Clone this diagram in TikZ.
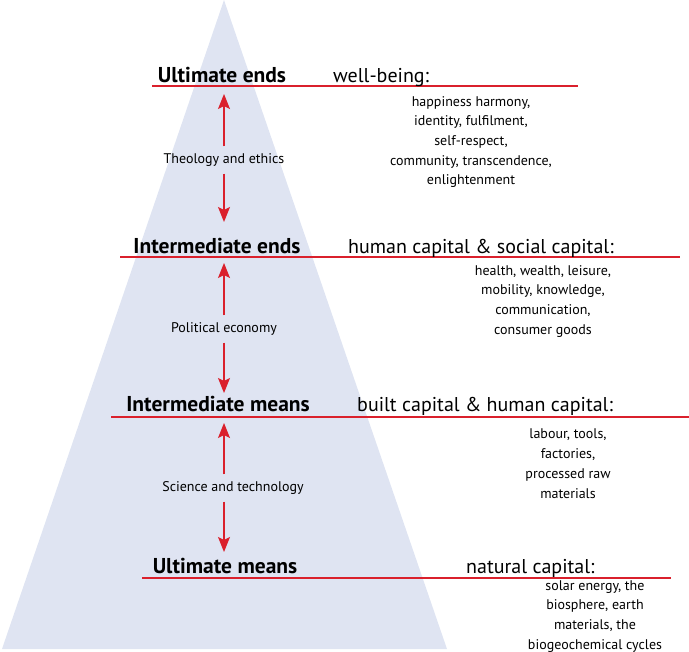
\documentclass[tikz,border=0pt]{standalone}
\usepackage{fontspec}
\setmainfont{PT Sans}
\usetikzlibrary{arrows.meta}

\definecolor{pyramid}{RGB}{223,228,242}
\definecolor{linered}{RGB}{218,32,44}

\tikzset{
  level/.style={anchor=base,inner sep=0pt,font=\bfseries\fontsize{21.5}{24}\selectfont},
  capital/.style={anchor=base west,inner sep=0pt,font=\fontsize{20}{24}\selectfont},
  detail/.style={anchor=north,align=center,inner sep=0pt,font=\fontsize{14}{19.7}\selectfont},
  bridge/.style={inner xsep=0pt,inner ysep=7pt,font=\fontsize{14}{16}\selectfont},
  divider/.style={linered,line width=1.1pt},
  updown/.style={linered,line width=1.3pt,-{Stealth[length=15pt,width=12pt,inset=3pt]}}
}

\begin{document}
\begin{tikzpicture}[x=1pt,y=-1pt]
\useasboundingbox (0,0) rectangle (689,652);
% the pyramid
\fill[pyramid] (224,0) -- (447,649) -- (2,649) -- cycle;

% red rules under each level
\draw[divider] (152,86) -- (578,86);
\draw[divider] (120,257) -- (680,257);
\draw[divider] (111,417) -- (689,417);
\draw[divider] (142,578) -- (671,578);

% levels
\node[level] (ue) at (222,83) {Ultimate ends};
\node[level] (ie) at (217,254) {Intermediate ends};
\node[level] (im) at (218,412) {Intermediate means};
\node[level] (um) at (225,573) {Ultimate means};

\node[capital] (ueCap) at (333,83) {well-being:};
\node[capital] (ieCap) at (348,254) {human capital \& social capital:};
\node[capital] (imCap) at (357,412) {built capital \& human capital:};
\node[capital] (umCap) at (466,573) {natural capital:};

\node[detail] (ueList) at (471,96) {happiness harmony,\\identity, fulfilment,\\self-respect,\\community, transcendence,\\enlightenment};
\node[detail] (ieList) at (543,265) {health, wealth, leisure,\\mobility, knowledge,\\communication,\\consumer goods};
\node[detail] (imList) at (568,429) {labour, tools,\\factories,\\processed raw\\materials};
\node[detail] (umList) at (595,580) {solar energy, the\\biosphere, earth\\materials, the\\biogeochemical cycles};

% links between levels
\node[bridge] (te) at (224,160) {Theology and ethics};
\node[bridge] (pe) at (224,329) {Political economy};
\node[bridge] (st) at (233,488) {Science and technology};

\coordinate (teTop) at (224,94);
\coordinate (teBot) at (224,222);
\coordinate (peTop) at (224,263);
\coordinate (peBot) at (224,393);
\coordinate (stTop) at (224,423);
\coordinate (stBot) at (224,552);

\draw[updown] (te.north) -- (teTop);
\draw[updown] (te.south) -- (teBot);
\draw[updown] (pe.north) -- (peTop);
\draw[updown] (pe.south) -- (peBot);
\draw[updown] (stTop |- st.north) -- (stTop);
\draw[updown] (stBot |- st.south) -- (stBot);
\end{tikzpicture}
\end{document}
